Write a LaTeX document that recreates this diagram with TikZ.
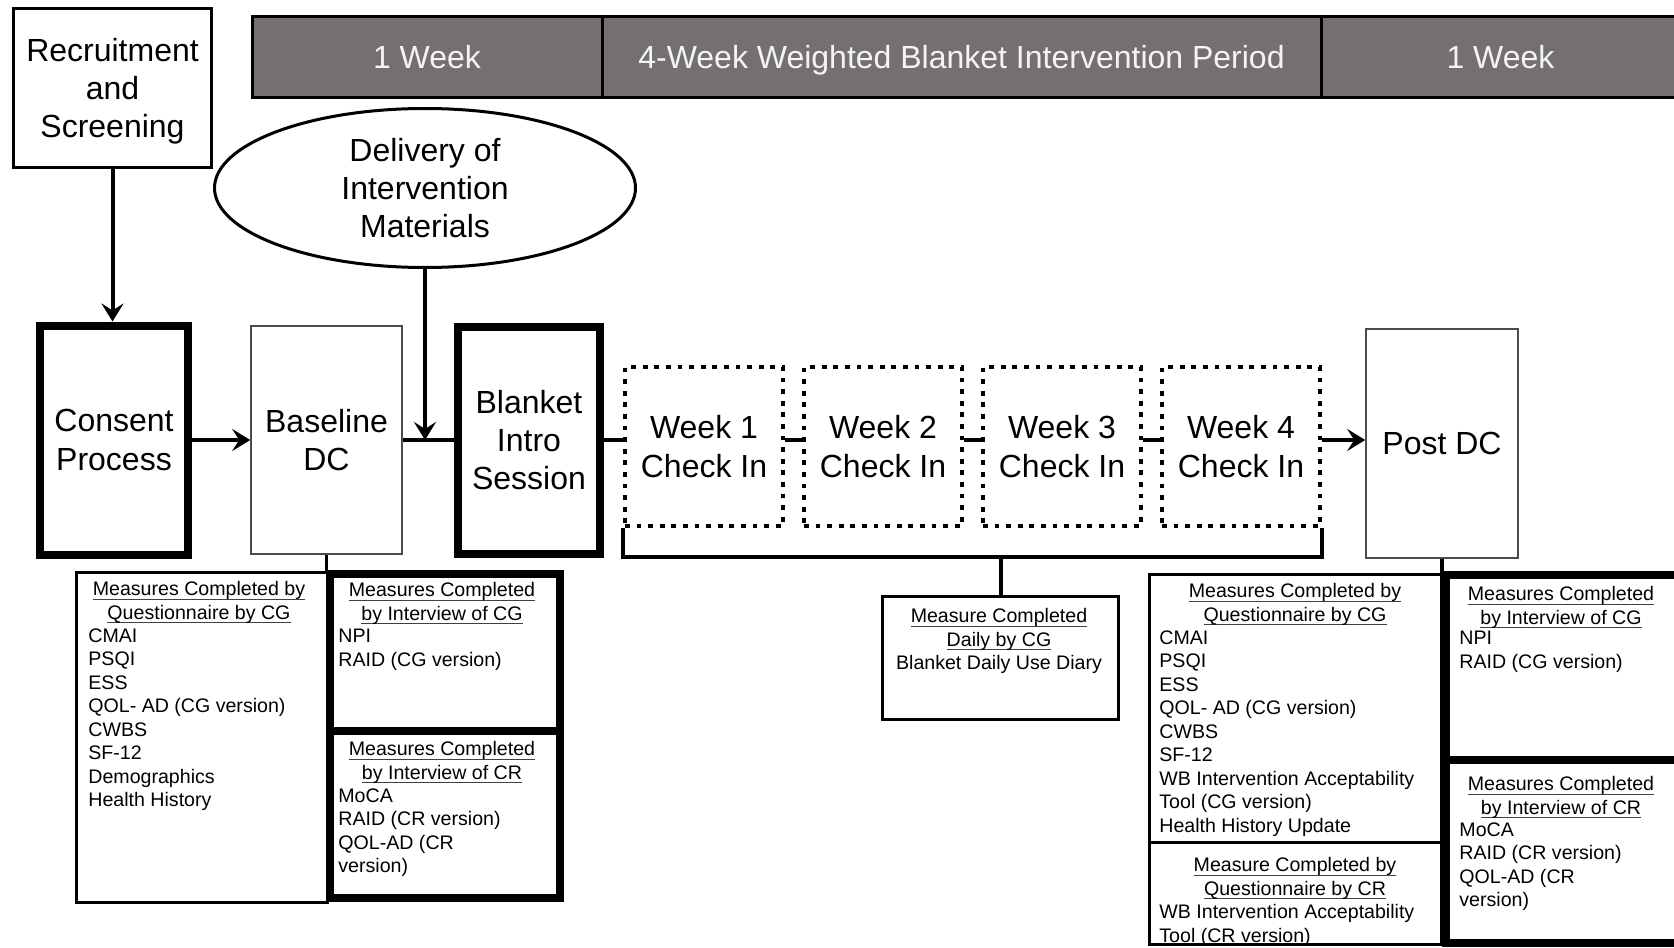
\documentclass[tikz,border=0pt]{standalone}
\usepackage{fontspec}
\setmainfont{Liberation Sans}
\usetikzlibrary{positioning}
\usetikzlibrary{shapes.geometric}
\usetikzlibrary{arrows.meta}

\definecolor{bargray}{RGB}{117,112,112}
\definecolor{bartext}{RGB}{244,244,244}

% underlined heading line, rule just under the baseline
\newcommand{\mhead}[1]{\setbox0=\hbox{#1}\rlap{\color{black!75}\rule[-2.1pt]{\wd0}{0.5pt}}\box0}

\begin{document}
\begin{tikzpicture}[x=0.5pt, y=-0.5pt,
    every node/.style={inner sep=0pt},
    big/.style={font=\fontsize{16}{19.2}\selectfont, align=center},
    small/.style={font=\fontsize{9.8}{11.75}\selectfont},
    stagebox/.style={big, draw, line width=1.5pt},
    keybox/.style={big, draw, line width=4pt},
    dcbox/.style={big, draw=black!70, line width=0.8pt},
    weekbox/.style={big, draw, line width=2pt, dash pattern=on 2.4pt off 3.4pt},
    periodbox/.style={big, draw, line width=1.5pt, fill=bargray, text=bartext,
      minimum height=40.5pt, text height=15pt, text depth=3.5pt},
    mbox/.style={draw, line width=1.6pt, anchor=north west},
    mboxbold/.style={draw, line width=4pt, anchor=north west},
    mtitle/.style={small, align=center, anchor=north},
    mlist/.style={small, align=left, anchor=north west},
    link/.style={line width=2pt},
    arr/.style={link, -{Stealth[length=9pt, width=11pt, inset=3.5pt]}}
  ]
  \useasboundingbox (0,0) rectangle (1674,947);

  % time line
  \node[periodbox, minimum width=175pt] (p1) at (427,57) {1 Week};
  \node[periodbox, minimum width=359.5pt] (p2) at (961.5,57) {4-Week Weighted Blanket Intervention Period};
  \node[periodbox, minimum width=179.5pt] (p3) at (1500.5,57) {1 Week};

  % main row
  \node[stagebox, minimum width=99pt, minimum height=79.5pt, text depth=0pt] (rec) at (112.5,88) {Recruitment\\and\\Screening};
  \node[stagebox, ellipse, minimum width=210.5pt, minimum height=79.5pt] (del) at (425,188) {Delivery of\\Intervention\\Materials};
  \node[keybox, minimum width=74pt, minimum height=114.5pt] (con) at (114,440) {Consent\\Process};
  \node[dcbox, minimum width=75.5pt, minimum height=114pt] (base) at (326.5,440) {Baseline\\DC};
  \node[keybox, minimum width=71pt, minimum height=113.5pt] (intro) at (529,440) {Blanket\\Intro\\Session};
  \foreach \i in {1,...,4}
    \node[weekbox, minimum width=79pt, minimum height=79.5pt] (w\i) at ({704+179*(\i-1)},446.5) {Week \i\\Check In};
  \node[dcbox, minimum width=76pt, minimum height=114.5pt] (post) at (1442,443.5) {Post DC};

  \draw[arr] (rec.south) -- (rec.south |- con.north);
  \draw[arr] (con.east) -- (base.west);
  \draw[link] (base.east) -- (intro.west);
  \draw[arr] (del.south) -- (del.south |- base.east);
  \draw[link] (intro.east) -- (intro.east -| w1.west);
  \foreach \i/\j in {1/2,2/3,3/4}
    \draw[link] (w\i.east |- intro.east) -- (w\j.west |- intro.east);
  \draw[arr] (w4.east |- intro.east) -- (post.west |- intro.east);

  % daily diary
  \coordinate (brk) at (998,557);
  \node[mbox, minimum width=118pt, minimum height=61.5pt] (daily) at (881,595) {};
  \node[mtitle] (dailyT) at (999,608) {\mhead{Measure Completed}\\\mhead{Daily by CG}\\Blanket Daily Use Diary};
  \draw[link] (w1.south west) -- (w1.south west |- brk) -- (w4.south east |- brk) -- (w4.south east);
  \draw[link] (daily.north |- brk) -- (daily.north);

  % baseline measures
  \node[mbox, minimum width=125.5pt, minimum height=165pt] (bq) at (75,571) {};
  \node[mboxbold, minimum width=115pt, minimum height=78.5pt] (bi) at (326,570) {};
  \node[mboxbold, minimum width=115pt, minimum height=83.5pt, below=-4pt of bi] (bir) {};
  \draw[line width=1.6pt] (base.south) -- (base.south |- bq.north);
  \node[mtitle] (bqT) at (199,581) {\mhead{Measures Completed by}\\\mhead{Questionnaire by CG}};
  \node[mlist] (bqL) at (88,628) {CMAI\\PSQI\\ESS\\QOL- AD (CG version)\\CWBS\\SF-12\\Demographics\\Health History};
  \node[mtitle] (biT) at (442,582) {\mhead{Measures Completed}\\\mhead{by Interview of CG}};
  \node[mlist] (biL) at (338,629) {NPI\\RAID (CG version)};
  \node[mtitle] (birT) at (442,741) {\mhead{Measures Completed}\\\mhead{by Interview of CR}};
  \node[mlist] (birL) at (338,788) {MoCA\\RAID (CR version)\\QOL-AD (CR\\version)};

  % post measures
  \node[mbox, minimum width=146pt, minimum height=134pt] (pq) at (1148,573) {};
  \node[mbox, minimum width=146pt, minimum height=51pt, below=-1.6pt of pq] (pqr) {};
  \node[mboxbold, minimum width=122pt, minimum height=92.5pt] (pi) at (1442,571) {};
  \node[mboxbold, minimum width=122pt, minimum height=91.5pt, below=-4pt of pi] (pir) {};
  \draw[line width=1.6pt] (post.south) -- (post.south |- pq.north);
  \node[mtitle] (pqT) at (1295,583) {\mhead{Measures Completed by}\\\mhead{Questionnaire by CG}};
  \node[mlist] (pqL) at (1159,630) {CMAI\\PSQI\\ESS\\QOL- AD (CG version)\\CWBS\\SF-12\\WB Intervention Acceptability\\Tool (CG version)\\Health History Update};
  \node[mtitle] (pqrT) at (1295,857) {\mhead{Measure Completed by}\\\mhead{Questionnaire by CR}};
  \node[mlist] (pqrL) at (1159,904) {WB Intervention Acceptability\\Tool (CR version)};
  \node[mtitle] (piT) at (1561,586) {\mhead{Measures Completed}\\\mhead{by Interview of CG}};
  \node[mlist] (piL) at (1459,631) {NPI\\RAID (CG version)};
  \node[mtitle] (pirT) at (1561,776) {\mhead{Measures Completed}\\\mhead{by Interview of CR}};
  \node[mlist] (pirL) at (1459,822) {MoCA\\RAID (CR version)\\QOL-AD (CR\\version)};
\end{tikzpicture}
\end{document}
